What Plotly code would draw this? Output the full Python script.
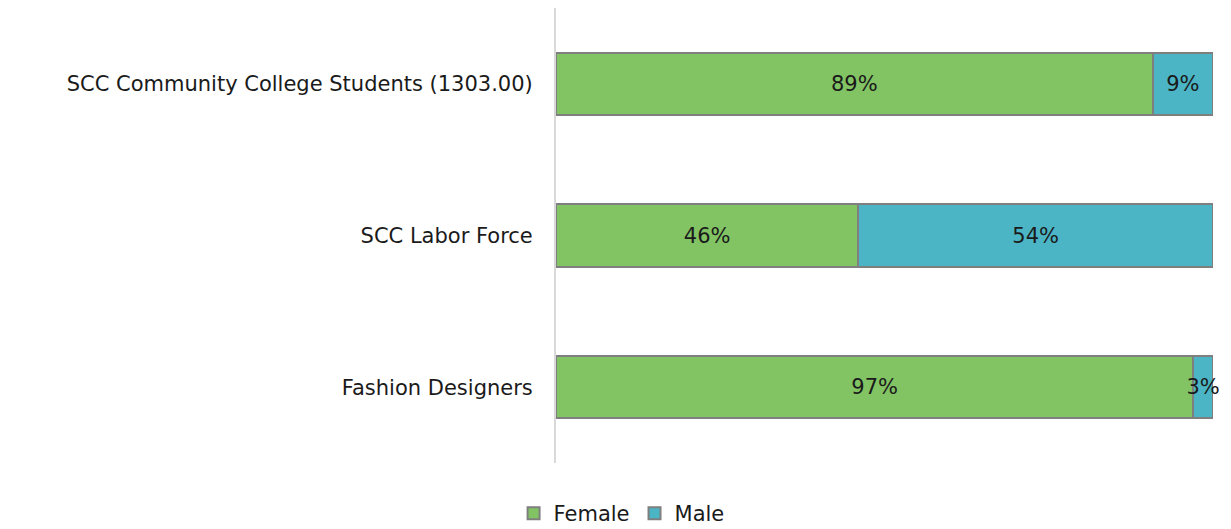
import plotly.graph_objects as go

categories = ["SCC Community College Students (1303.00)", "SCC Labor Force", "Fashion Designers"]
female = [89, 46, 97]
male = [9, 54, 3]

FONT = "DejaVu Sans"
TXT = "#1a1a1a"
SIZE = 21

fig = go.Figure()
fig.add_trace(go.Bar(
    y=categories, x=female, name="Female", orientation="h",
    marker=dict(color="#82C464", line=dict(color="#7f7f7f", width=2)),
    text=[f"{v}%" for v in female], textposition="inside", textangle=0,
    insidetextanchor="middle", constraintext="none", cliponaxis=False,
    textfont=dict(family=FONT, size=SIZE, color=TXT),
))
fig.add_trace(go.Bar(
    y=categories, x=male, name="Male", orientation="h",
    marker=dict(color="#4BB5C5", line=dict(color="#7f7f7f", width=2)),
    text=[f"{v}%" for v in male], textposition="inside", textangle=0,
    insidetextanchor="middle", constraintext="none", cliponaxis=False,
    textfont=dict(family=FONT, size=SIZE, color=TXT),
))

fig.update_layout(
    width=1215, height=526,
    barmode="stack", barnorm="percent", bargap=0.59,
    plot_bgcolor="white", paper_bgcolor="white",
    margin=dict(l=548, r=10, t=0, b=71),
    font=dict(family=FONT, size=SIZE, color=TXT),
    showlegend=True,
    legend=dict(orientation="h", xref="container", x=0.505, xanchor="center",
                yref="container", y=0.0, yanchor="bottom",
                font=dict(family=FONT, size=SIZE, color=TXT),
                itemwidth=30, traceorder="normal"),
    xaxis=dict(range=[0, 100], showgrid=False, showticklabels=False, zeroline=False,
               showline=False, ticks=""),
    yaxis=dict(categoryorder="array", categoryarray=categories[::-1],
               showgrid=False, showline=True, linecolor="#d9d9d9", linewidth=2,
               ticks="", ticklabelstandoff=17, tickfont=dict(family=FONT, size=SIZE, color=TXT)),
)

fig.write_html("out.html")
